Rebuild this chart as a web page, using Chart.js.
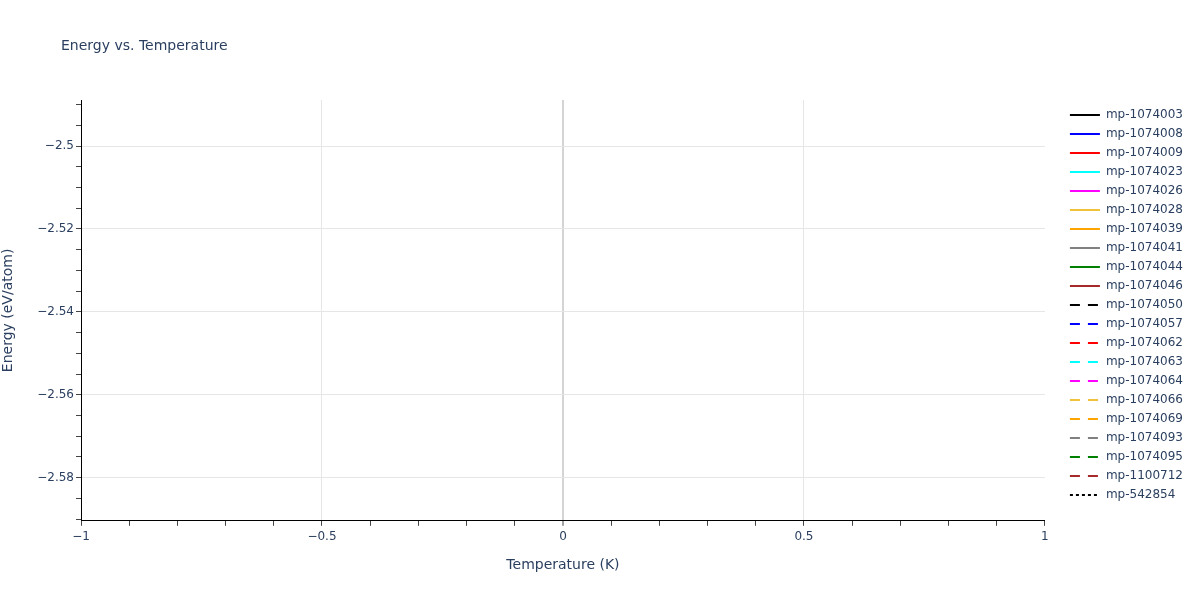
<!DOCTYPE html>
<html>
<head>
<meta charset="utf-8">
<script src="https://cdn.jsdelivr.net/npm/chart.js@4"></script>
<style>
  html, body { margin: 0; padding: 0; background: #fff; }
  #wrap { width: 1200px; height: 600px; position: relative; }
</style>
</head>
<body>
<div id="wrap"><canvas id="chart" width="1200" height="600"></canvas></div>
<script>
// Series (no points are drawn in the reference, only the legend)
const seriesNames = [
    'mp-1074003', 'mp-1074008', 'mp-1074009', 'mp-1074023', 'mp-1074026',
    'mp-1074028', 'mp-1074039', 'mp-1074041', 'mp-1074044', 'mp-1074046',
    'mp-1074050', 'mp-1074057', 'mp-1074062', 'mp-1074063', 'mp-1074064',
    'mp-1074066', 'mp-1074069', 'mp-1074093', 'mp-1074095', 'mp-1100712',
    'mp-542854'
];
const seriesColors = [
    'black', 'blue', 'red', 'cyan', 'magenta', '#f0c23a', 'orange', 'gray', 'green', 'brown',
    'black', 'blue', 'red', 'cyan', 'magenta', '#f0c23a', 'orange', 'gray', 'green', 'brown',
    'black'
];
const seriesDash = [
    'solid', 'solid', 'solid', 'solid', 'solid', 'solid', 'solid', 'solid', 'solid', 'solid',
    'dash', 'dash', 'dash', 'dash', 'dash', 'dash', 'dash', 'dash', 'dash', 'dash',
    'dot'
];
const temperatures = [];
const energies = seriesNames.map(() => []);

// Axes
const xRange = [-1, 1];
const yRange = [-2.5904, -2.4889];
const xMajorTicks = [-1, -0.5, 0, 0.5, 1];
const xMinorStep = 0.1;
const yMajorTicks = [-2.58, -2.56, -2.54, -2.52, -2.5];
const yMinorStep = 0.005;

const dashPatterns = { solid: [], dash: [10, 8], dot: [3, 3] };
const textColor = '#2a3f5f';
const fontFamily = '"DejaVu Sans", Verdana, sans-serif';

function stepTicks(min, max, step) {
    const out = [];
    const start = Math.ceil(min / step - 1e-9);
    const end = Math.floor(max / step + 1e-9);
    for (let i = start; i <= end; i++) out.push({ value: +(i * step).toFixed(6) });
    return out;
}
const isMajor = (list, v) => list.some(m => Math.abs(m - v) < 1e-9);
const fmt = v => String(v).replace('-', '\u2212');

const datasets = seriesNames.map((name, i) => ({
    label: name,
    data: temperatures.map((t, j) => ({ x: t, y: energies[i][j] })),
    borderColor: seriesColors[i],
    backgroundColor: seriesColors[i],
    borderWidth: 2,
    borderDash: dashPatterns[seriesDash[i]],
    pointRadius: 0,
    showLine: true
}));

const titlePlugin = {
    id: 'plotTitle',
    afterLayout(chart) {
        // nudge the legend into the place plotly puts it
        const shift = chart.chartArea.right + 18 - chart.legend.left;
        chart.legend.left += shift;
        chart.legend.right += shift;
        chart.legend.width += 40;
        chart.legend.right += 40;
        chart.legend.top += 2;
        chart.legend.bottom += 2;
    },
    afterDraw(chart) {
        const ctx = chart.ctx;
        ctx.save();
        ctx.fillStyle = textColor;
        ctx.font = '14px ' + fontFamily;
        ctx.textBaseline = 'alphabetic';
        ctx.fillText('Energy vs. Temperature', 61, 50);
        ctx.restore();
    }
};

new Chart(document.getElementById('chart'), {
    type: 'scatter',
    data: { datasets },
    plugins: [titlePlugin],
    options: {
        responsive: false,
        animation: false,
        layout: { padding: { top: 100, left: 0, right: 25, bottom: 0 } },
        plugins: {
            title: { display: false },
            tooltip: { enabled: false },
            legend: {
                position: 'right',
                align: 'start',
                labels: {
                    usePointStyle: true,
                    pointStyle: 'line',
                    pointStyleWidth: 30,
                    boxWidth: 30,
                    boxHeight: 12,
                    padding: 7,
                    color: textColor,
                    font: { family: fontFamily, size: 12 },
                    generateLabels(chart) {
                        return chart.data.datasets.map((ds, i) => ({
                            text: ds.label,
                            strokeStyle: ds.borderColor,
                            fillStyle: ds.borderColor,
                            lineWidth: 2,
                            lineDash: ds.borderDash,
                            pointStyle: 'line',
                            hidden: false,
                            datasetIndex: i,
                            fontColor: textColor
                        }));
                    }
                }
            }
        },
        scales: {
            x: {
                type: 'linear',
                min: xRange[0],
                max: xRange[1],
                afterBuildTicks(scale) { scale.ticks = stepTicks(xRange[0], xRange[1], xMinorStep); },
                ticks: {
                    autoSkip: false,
                    maxRotation: 0,
                    color: textColor,
                    font: { family: fontFamily, size: 12 },
                    padding: 4,
                    callback: v => isMajor(xMajorTicks, v) ? fmt(v) : ''
                },
                grid: {
                    color: c => {
                        const v = c.tick ? c.tick.value : null;
                        if (v === null || Math.abs(v - xRange[0]) < 1e-9 || Math.abs(v - xRange[1]) < 1e-9) return 'transparent';
                        if (Math.abs(v) < 1e-9) return '#d4d4d4';
                        return isMajor(xMajorTicks, v) ? '#e6e6e6' : 'transparent';
                    },
                    lineWidth: c => (c.tick && Math.abs(c.tick.value) < 1e-9) ? 2 : 1,
                    tickColor: '#444',
                    tickLength: 5,
                    tickWidth: 1
                },
                border: { color: '#000', width: 1 },
                title: {
                    display: true,
                    text: 'Temperature (K)',
                    color: textColor,
                    font: { family: fontFamily, size: 14 },
                    padding: { top: 9, bottom: 26 }
                }
            },
            y: {
                type: 'linear',
                min: yRange[0],
                max: yRange[1],
                afterBuildTicks(scale) { scale.ticks = stepTicks(yRange[0], yRange[1], yMinorStep); },
                ticks: {
                    autoSkip: false,
                    color: textColor,
                    font: { family: fontFamily, size: 12 },
                    padding: 2,
                    callback: v => isMajor(yMajorTicks, v) ? fmt(v) : ''
                },
                grid: {
                    color: c => (c.tick && isMajor(yMajorTicks, c.tick.value)) ? '#e6e6e6' : 'transparent',
                    tickColor: '#444',
                    tickLength: 5,
                    tickWidth: 1
                },
                border: { color: '#000', width: 1 },
                title: {
                    display: true,
                    text: 'Energy (eV/atom)',
                    color: textColor,
                    font: { family: fontFamily, size: 14 },
                    padding: { top: 0, bottom: 14 }
                },
                afterFit(scale) { scale.width = 81; }
            }
        }
    }
});
</script>
</body>
</html>
